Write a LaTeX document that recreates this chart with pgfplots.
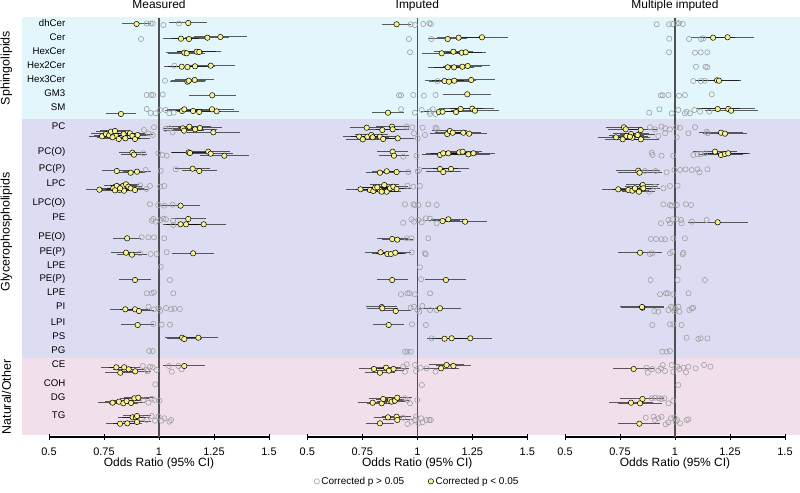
\documentclass[border=0pt]{standalone}
\usepackage{fontspec}
\setmainfont{Liberation Sans}
\usepackage{pgfplots}
\pgfplotsset{compat=1.18}
\definecolor{yel}{RGB}{248,242,140}
\definecolor{ngray}{RGB}{160,160,160}
\definecolor{bgA}{RGB}{226,246,252}
\definecolor{bgB}{RGB}{220,221,243}
\definecolor{bgC}{RGB}{242,223,236}
\definecolor{refline}{RGB}{80,80,80}
\pgfplotsset{
 panel/.style={
  scale only axis, width=220bp, height=422bp,
  xmin=0.5, xmax=1.5, ymin=-437, ymax=-15,
  y filter/.expression={-y},
  clip=false,
  hide y axis,
  axis x line*=bottom,
  axis line style={black, line width=1.2bp, -},
  xtick={0.5,0.75,1,1.25,1.5},
  xticklabels={0.5,0.75,1,1.25,1.5},
  tick align=center, major tick length=5bp,
  tick style={black, line width=1bp},
  xticklabel style={font=\fontsize{11}{13}\selectfont, anchor=center, inner sep=0pt, yshift=-12.5bp},
  xlabel={Odds Ratio (95\% CI)},
  xlabel style={font=\fontsize{12}{14}\selectfont, at={(axis description cs:0.5,0)}, anchor=center, inner sep=0pt, yshift=-26.5bp},
  anchor=south west,
 },
 nsig/.style={only marks, mark=o, mark size=2.6bp, mark options={draw=ngray, line width=0.6bp}},
 sig/.style={only marks, mark=*, mark size=2.7bp, mark options={fill=yel, draw=black, line width=0.5bp},
   error bars/x dir=both, error bars/x explicit, error bars/error mark=none,
   error bars/error bar style={black, opacity=0.62, line width=1bp}},
}
\begin{document}
\begin{tikzpicture}
\useasboundingbox (0,0) rectangle (800bp,493bp);
\fill[bgA] (22bp,374bp) rectangle (800bp,476bp);
\fill[bgB] (22bp,135bp) rectangle (800bp,374bp);
\fill[bgC] (22bp,58bp) rectangle (800bp,135bp);
% ---------------- Panel 1: Measured ----------------
\begin{axis}[panel, at={(49bp,56bp)}]
\draw[refline, line width=1.5bp] (axis cs:1,-18) -- (axis cs:1,-437);
\addplot[nsig] coordinates {
(0.944,23.5)(0.962,23.5)(0.971,23.5)(1.020,25)(1.091,23.5)
(0.918,39)(1.070,65.7)(1.027,80.7)
(0.944,95)(0.964,95)(0.974,95)(1.017,94.5)
(0.944,109)(0.962,113)(0.985,113.3)(1.005,110)(1.030,110)(1.047,113.3)(1.067,112.7)
(0.932,130)(0.977,127.3)(0.952,133.3)(0.971,135)(1.050,128.3)(1.030,129)(1.061,132.3)
(0.929,153.3)(0.997,153.3)(1.015,155)(1.035,155.7)
(0.939,170)(1.008,170.7)(1.076,169.3)
(0.914,185.3)(0.944,189)(0.959,186)(1.005,186.7)(1.024,186)
(0.959,204.3)(0.997,205)(1.024,205.7)(1.062,204.7)
(0.967,220.7)(0.974,219)(0.985,221.7)(1.006,220)(1.020,218.7)(1.032,219.3)(1.064,220.7)(1.065,225)
(0.921,237.3)(0.952,237.3)(0.977,237.3)(1.024,238.3)
(0.914,253.3)(0.962,254)(0.989,254)(1.035,252.3)
(1.008,266.7)(1.050,280)
(0.944,293.3)(0.967,293.3)(0.977,292.3)(1.065,293.3)
(0.952,306.7)(0.977,309.3)(0.997,308.3)(1.005,310.7)(1.032,308)(1.055,309.3)(1.070,308.7)(1.095,309)
(0.974,324)(1.012,324.7)(1.050,324.7)
(0.955,351)(0.971,351)
(0.926,366)(0.959,366.7)(0.947,371.3)(0.971,367.3)(0.989,370)(0.944,370)(1.045,366)(1.058,371.7)(1.088,366)(1.103,369.3)
(0.983,384.3)
(0.929,400)(0.952,402.7)(0.967,398.7)(0.979,400)(1.002,400.7)
(0.921,418.3)(0.944,420)(0.967,416)(0.982,420.7)(0.998,416.7)(1.012,420.7)(1.024,418.3)(1.047,421.7)(1.055,420)
};
\addplot[sig] coordinates {
(0.898,24) +- (0.065,0) (1.133,23) +- (0.087,0)
(1.100,38.7) +- (0.08,0) (1.136,39) +- (0.08,0) (1.220,37.7) +- (0.1,0) (1.279,37) +- (0.12,0)
(1.115,52.7) +- (0.085,0) (1.126,53.3) +- (0.085,0) (1.171,51.7) +- (0.09,0) (1.183,52) +- (0.1,0)
(1.103,66.7) +- (0.08,0) (1.129,67) +- (0.09,0) (1.164,66.3) +- (0.09,0) (1.235,65.7) +- (0.11,0)
(1.129,81.7) +- (0.08,0) (1.135,80.7) +- (0.08,0) (1.162,80) +- (0.09,0)
(1.242,95.3) +- (0.106,0)
(0.827,114) +- (0.07,0)
(1.105,111) +- (0.08,0) (1.115,109.3) +- (0.08,0) (1.155,111) +- (0.09,0) (1.183,112) +- (0.1,0) (1.241,109.3) +- (0.1,0) (1.262,111.3) +- (0.1,0)
(0.741,136.3) +- (0.06,0) (0.759,134) +- (0.07,0) (0.773,135.3) +- (0.07,0) (0.782,131.7) +- (0.07,0) (0.800,131) +- (0.07,0) (0.805,136) +- (0.07,0) (0.817,139) +- (0.07,0) (0.839,134) +- (0.07,0) (0.847,138.3) +- (0.07,0) (0.868,133.3) +- (0.07,0) (0.879,136) +- (0.07,0) (0.891,139) +- (0.07,0) (0.903,135) +- (0.07,0) (0.789,137.3) +- (0.07,0)
(1.108,128.3) +- (0.09,0) (1.114,130.7) +- (0.09,0) (1.138,126.7) +- (0.1,0) (1.164,129.3) +- (0.1,0) (1.186,128) +- (0.1,0) (1.247,132.3) +- (0.12,0)
(0.879,152.7) +- (0.06,0) (0.886,154.7) +- (0.06,0) (1.135,152.3) +- (0.08,0) (1.141,153) +- (0.08,0) (1.224,151.7) +- (0.1,0) (1.235,153.7) +- (0.1,0) (1.297,155.7) +- (0.11,0)
(0.808,171) +- (0.065,0) (0.871,172.7) +- (0.065,0) (0.900,171.7) +- (0.065,0) (1.153,168.7) +- (0.08,0) (1.183,171) +- (0.08,0)
(0.729,189.7) +- (0.06,0) (0.792,188.3) +- (0.06,0) (0.808,186) +- (0.06,0) (0.820,190) +- (0.06,0) (0.838,185.7) +- (0.06,0) (0.841,190.7) +- (0.06,0) (0.850,184.3) +- (0.06,0) (0.861,186.7) +- (0.06,0) (0.871,188.3) +- (0.06,0) (0.891,190) +- (0.06,0) (0.823,188.3) +- (0.06,0) (0.800,190.3) +- (0.06,0)
(1.098,205.7) +- (0.088,0)
(1.133,219) +- (0.08,0) (1.098,224.3) +- (0.08,0) (1.123,224.3) +- (0.09,0) (1.203,224.3) +- (0.1,0)
(0.855,238.3) +- (0.065,0)
(0.850,252.7) +- (0.07,0) (0.877,254.7) +- (0.07,0) (1.155,253.3) +- (0.095,0)
(0.891,280) +- (0.072,0)
(0.847,309.3) +- (0.07,0) (0.891,309.3) +- (0.07,0) (0.909,311) +- (0.07,0)
(0.903,325) +- (0.075,0)
(1.105,337.7) +- (0.08,0) (1.115,339) +- (0.08,0) (1.179,337.7) +- (0.09,0)
(0.806,367.3) +- (0.07,0) (0.824,372.7) +- (0.07,0) (0.842,367.3) +- (0.07,0) (0.862,369.3) +- (0.07,0) (0.892,371.3) +- (0.07,0) (1.115,366) +- (0.095,0)
(0.789,402.7) +- (0.065,0) (0.818,401.7) +- (0.065,0) (0.838,403.3) +- (0.065,0) (0.853,401) +- (0.065,0) (0.873,403) +- (0.065,0) (0.888,398.3) +- (0.065,0) (0.906,397.7) +- (0.065,0)
(0.823,423.7) +- (0.065,0) (0.856,423.3) +- (0.065,0) (0.880,417.3) +- (0.065,0) (0.895,417.3) +- (0.065,0) (0.900,422) +- (0.065,0) (0.900,416) +- (0.065,0)
};
\end{axis}
% ---------------- Panel 2: Imputed ----------------
\begin{axis}[panel, at={(307.3bp,56bp)},
  legend style={draw=none, fill=none, at={(0.5,-0.105)}, anchor=center,
    font=\fontsize{10}{12}\selectfont, /tikz/every even column/.append style={column sep=22bp}},
  legend columns=2,
  legend image code/.code={\draw[mark repeat=2,mark phase=2,#1] plot coordinates {(0bp,0bp) (3bp,0bp) (6bp,0bp)};}]
\draw[refline, line width=1.5bp] (axis cs:1,-18) -- (axis cs:1,-437);
\addplot[nsig] coordinates {
(0.970,24.3)(0.989,25)(1.027,24)(1.055,23.3)(1.061,24)
(0.962,39)(1.064,39)
(0.967,52.3)
(1.092,81)
(0.917,95.3)(0.926,95.3)(0.982,95)(1.030,95.7)(1.083,95)
(0.926,109.3)(0.989,112.7)(1.020,110)(1.055,111.7)(1.070,109.3)(1.083,114)(1.058,114)
(0.952,126.7)(0.977,127.3)(0.985,133.3)(1.002,138.3)(1.024,127.7)(1.035,135)(1.083,127.7)(1.088,129)
(0.936,156.7)(0.997,155.7)
(0.959,172)(1.002,171.3)(1.009,170)
(0.955,185.7)(0.982,186.7)(1.012,186)
(0.944,204.3)(0.982,204.3)(0.989,205)(1.005,205)(1.050,204.3)(1.088,205)
(0.936,222.7)(0.974,219.3)(0.985,221.7)(1.005,220)(1.020,222.3)(1.039,218.3)(1.058,218.7)(1.088,223.3)
(0.952,238.3)(0.974,238.3)(1.050,238.3)
(0.974,252.3)(1.035,253.3)(1.038,254.3)
(1.012,267.3)
(1.017,279.3)
(0.926,294.3)(0.955,293.3)(0.964,293.3)(0.989,294.3)(1.058,293.3)
(0.970,307.7)(0.985,306.7)(1.000,310)(1.009,311.7)(1.023,306)(1.058,310)(1.088,310)
(0.976,324.3)(1.039,325)
(1.065,338.3)
(0.944,351.7)(0.955,351.7)(0.970,351.7)
(0.936,366.7)(0.944,371.7)(0.952,364.3)(0.989,365)(0.994,371)(1.015,367.7)(1.042,368.3)(1.083,371.7)
(1.021,385)
(0.944,398.3)(0.955,400)(0.967,403.3)(1.000,400)
(0.936,417.7)(0.955,424)(0.974,421.7)(0.989,420)(0.994,416.7)(1.005,423.3)(1.017,418.3)(1.024,422.3)(1.042,420)(1.055,420)(1.062,420)
};
\addlegendentry{Corrected p > 0.05}
\addplot[sig] coordinates {
(0.906,24.3) +- (0.066,0)
(1.138,39) +- (0.09,0) (1.188,37.7) +- (0.1,0) (1.294,37.3) +- (0.12,0)
(1.111,53.3) +- (0.09,0) (1.164,51.7) +- (0.09,0) (1.202,52.7) +- (0.09,0) (1.220,52.3) +- (0.09,0)
(1.138,67.3) +- (0.09,0) (1.167,67.3) +- (0.09,0) (1.205,66.7) +- (0.09,0) (1.229,66) +- (0.1,0)
(1.124,81) +- (0.09,0) (1.144,81.7) +- (0.09,0) (1.168,80.7) +- (0.1,0) (1.245,80) +- (0.11,0)
(1.227,94.3) +- (0.11,0)
(0.867,112.7) +- (0.074,0)
(1.098,112) +- (0.08,0) (1.115,111.7) +- (0.08,0) (1.176,112) +- (0.09,0) (1.197,109) +- (0.1,0) (1.250,108.7) +- (0.1,0) (1.262,110.7) +- (0.11,0)
(0.770,127.7) +- (0.075,0) (0.841,130) +- (0.075,0) (0.885,126.7) +- (0.075,0) (0.888,129.3) +- (0.075,0) (0.736,136.7) +- (0.075,0) (0.752,139.3) +- (0.075,0) (0.773,136.7) +- (0.075,0) (0.791,135) +- (0.075,0) (0.797,137.3) +- (0.075,0) (0.830,136.7) +- (0.075,0) (0.845,139) +- (0.075,0) (0.911,138.3) +- (0.075,0)
(1.136,134) +- (0.08,0) (1.148,131) +- (0.08,0) (1.161,132.7) +- (0.08,0) (1.209,132.7) +- (0.08,0) (1.236,133.7) +- (0.08,0)
(0.888,151.7) +- (0.07,0) (0.894,155.7) +- (0.07,0) (1.103,155) +- (0.08,0) (1.118,153.3) +- (0.08,0) (1.141,153.3) +- (0.08,0) (1.191,152.3) +- (0.09,0) (1.206,151.7) +- (0.09,0) (1.232,154.3) +- (0.1,0) (1.255,153.3) +- (0.1,0)
(0.830,172.7) +- (0.065,0) (0.861,171.3) +- (0.065,0) (0.906,172) +- (0.065,0) (1.103,169) +- (0.08,0) (1.118,172) +- (0.08,0) (1.153,169) +- (0.08,0)
(0.742,189.3) +- (0.065,0) (0.785,190) +- (0.065,0) (0.800,191) +- (0.065,0) (0.808,187.7) +- (0.065,0) (0.830,190) +- (0.065,0) (0.850,185) +- (0.065,0) (0.861,191.7) +- (0.065,0) (0.876,188.3) +- (0.065,0) (0.891,186.7) +- (0.065,0) (0.906,189) +- (0.065,0) (0.838,191.7) +- (0.065,0) (0.818,187.3) +- (0.065,0)
(1.115,221) +- (0.08,0) (1.141,219.3) +- (0.08,0) (1.217,221.7) +- (0.1,0)
(0.886,239) +- (0.07,0) (0.909,239.7) +- (0.07,0)
(0.833,252.3) +- (0.07,0) (0.864,254) +- (0.07,0) (0.880,254) +- (0.07,0) (0.900,252.7) +- (0.07,0)
(0.886,280) +- (0.07,0) (1.130,280) +- (0.093,0)
(0.838,307) +- (0.07,0) (0.841,308.3) +- (0.07,0) (0.902,311) +- (0.07,0) (1.103,308.3) +- (0.095,0)
(0.870,325) +- (0.07,0)
(1.124,338.7) +- (0.08,0) (1.156,338.3) +- (0.09,0) (1.241,338.3) +- (0.1,0)
(0.803,369) +- (0.07,0) (0.830,372.7) +- (0.07,0) (0.858,367.7) +- (0.07,0) (0.871,370.7) +- (0.07,0) (0.892,369) +- (0.07,0) (1.108,368.3) +- (0.08,0) (1.133,365) +- (0.08,0) (1.164,366) +- (0.08,0)
(0.797,402.7) +- (0.065,0) (0.838,403.3) +- (0.065,0) (0.845,399) +- (0.065,0) (0.876,400) +- (0.065,0) (0.883,401.7) +- (0.065,0) (0.898,400.7) +- (0.065,0) (0.909,397.7) +- (0.065,0)
(0.830,423.3) +- (0.065,0) (0.867,417.3) +- (0.065,0) (0.906,416.7) +- (0.065,0) (0.909,420) +- (0.065,0)
};
\addlegendentry{Corrected p < 0.05}
\end{axis}
% ---------------- Panel 3: Multiple imputed ----------------
\begin{axis}[panel, at={(565bp,56bp)}]
\draw[refline, line width=1.5bp] (axis cs:1,-18) -- (axis cs:1,-437);
\addplot[nsig] coordinates {
(0.917,24.3)(0.973,24.3)(0.988,24)(1.008,23.3)(1.018,23.3)(1.035,24)
(0.974,38.7)(1.064,39)(1.118,39)(1.129,38.3)
(0.973,52.3)(1.091,52.7)(1.117,52.3)(1.147,52.3)
(1.095,66.7)(1.139,66.7)(1.147,67.3)
(1.083,81)(1.117,81)(1.136,80.7)
(0.935,95.3)(0.944,95.3)(0.970,95)(1.018,95.7)(1.045,95)(1.167,94.3)
(0.883,112.7)(0.929,109.3)(0.985,113.3)(1.015,110)(1.045,113.3)(1.053,111.7)(1.068,113.3)(1.088,110)(1.114,111.7)(1.156,111.7)
(0.886,127.3)(0.909,129.3)(0.939,126.7)(0.955,128.3)(0.955,133.3)(0.977,129.3)(1.005,127.3)(1.023,127.7)(1.008,137.3)(1.061,133.3)(1.091,127.3)(1.144,131.7)(1.148,133.3)(0.924,136)
(0.894,152.7)(0.898,155)(0.939,155.7)(0.992,155.7)(1.083,155)(1.103,154.3)(1.118,154)(1.136,153.3)
(0.864,171)(0.912,171)(0.962,172.3)(0.997,170)(1.023,170)(1.048,169.3)(1.076,170)(1.102,169.3)(1.111,172.3)(1.147,169.3)
(0.883,191.7)(0.909,186.7)(0.947,188.3)(0.977,186)(1.012,185.7)
(0.947,204.3)(0.977,205)(0.985,205.7)(1.008,205)(1.050,204.3)(1.073,205)
(0.936,223.3)(0.970,220)(0.977,223.3)(0.988,219.3)(1.008,219.3)(1.027,220)(1.030,223.3)(1.076,221.7)(1.144,220)
(0.891,239)(0.914,239)(0.939,239.3)(0.955,239.3)(0.992,238.3)(1.045,238.3)
(0.886,254)(0.897,253.3)(0.977,253.3)(0.988,251.7)(1.035,254.3)(1.038,252.7)
(1.015,267.3)
(0.889,280)(1.012,280)(1.136,280)
(0.932,294.3)(0.959,293.3)(0.967,293.3)(0.992,294.3)(1.061,293.3)
(0.906,311)(0.924,311.7)(0.970,310)(0.982,306.7)(0.988,308.3)(0.997,311)(1.003,309)(1.015,306.7)(1.020,311.7)(1.065,310)(1.076,308.3)(1.083,307.7)
(0.897,325)(0.977,324.3)(0.992,324.3)(1.030,325)
(1.053,337.7)(1.106,339)(1.117,338.3)(1.148,338.3)
(0.942,351.7)(0.962,351.7)(0.977,351)
(0.871,367.7)(0.876,372.7)(0.897,369)(0.924,370.7)(0.936,368.3)(0.944,365)(0.955,371)(0.985,365)(0.992,371.7)(1.011,366.7)(1.020,369)(1.038,367.7)(1.050,372.3)(1.061,366.7)(1.094,368.3)(1.132,365)(1.161,366.7)
(1.015,385)
(0.894,398.3)(0.909,397.7)(0.927,398.3)(0.939,399)(0.952,398.3)(0.970,403.3)(0.992,400.7)
(0.867,417.7)(0.902,416.7)(0.909,420)(0.924,418.3)(0.939,416.7)(0.958,424.3)(0.970,422.3)(0.982,418.3)(0.997,417.7)(1.003,421.7)(1.009,420)(1.023,423.3)(1.053,420)(1.061,419.3)
};
\addplot[sig] coordinates {
(1.173,37.7) +- (0.1,0) (1.239,37.3) +- (0.12,0)
(1.191,80.3) +- (0.1,0) (1.200,80.7) +- (0.1,0)
(1.194,109) +- (0.1,0) (1.242,109) +- (0.12,0) (1.255,110.7) +- (0.12,0)
(0.768,127.3) +- (0.08,0) (0.776,129.3) +- (0.08,0) (0.844,130) +- (0.08,0) (0.732,137.3) +- (0.08,0) (0.762,139.3) +- (0.08,0) (0.779,136) +- (0.08,0) (0.800,134) +- (0.08,0) (0.806,137.7) +- (0.08,0) (0.830,135) +- (0.08,0) (0.845,139.3) +- (0.08,0) (0.795,136.7) +- (0.08,0)
(1.209,132.7) +- (0.1,0) (1.227,133.7) +- (0.1,0)
(1.182,151.7) +- (0.1,0) (1.209,155) +- (0.1,0) (1.227,154) +- (0.1,0) (1.242,153.3) +- (0.1,0)
(0.833,170.7) +- (0.1,0) (0.839,172.7) +- (0.1,0)
(0.742,189.3) +- (0.075,0) (0.788,190) +- (0.075,0) (0.806,190.7) +- (0.075,0) (0.818,188.3) +- (0.075,0) (0.836,191.7) +- (0.075,0) (0.848,186.7) +- (0.075,0) (0.853,185) +- (0.075,0) (0.856,188.3) +- (0.075,0)
(1.194,222.3) +- (0.137,0)
(0.841,252.7) +- (0.098,0)
(0.852,307.7) +- (0.098,0) (0.850,307) +- (0.098,0)
(0.812,369) +- (0.092,0)
(0.852,399) +- (0.1,0) (0.800,402.7) +- (0.1,0) (0.841,403.3) +- (0.1,0)
(0.838,423.7) +- (0.096,0)
};
\end{axis}
% ---------------- titles and labels ----------------
\node[font=\fontsize{12}{14}\selectfont, anchor=base] at (159bp,484bp) {Measured};
\node[font=\fontsize{12}{14}\selectfont, anchor=base] at (417.3bp,484bp) {Imputed};
\node[font=\fontsize{12}{14}\selectfont, anchor=base] at (675bp,484bp) {Multiple imputed};
\foreach \lab/\yy in {dhCer/469.5, Cer/455.5, HexCer/441.5, Hex2Cer/427.5, Hex3Cer/413.5, GM3/399, SM/385,
  PC/366.5, PC(O)/341, PC(P)/324, LPC/309, LPC(O)/290, PE/275, PE(O)/256, PE(P)/241, LPE/227,
  PE(P)/214, LPE/200, PI/186, LPI/170, PS/156, PG/142, CE/128, COH/109, DG/95, TG/77}
  \node[font=\fontsize{9.7}{11}\selectfont, anchor=mid east, inner sep=0pt] at (65.5bp,\yy bp) {\lab};
\node[rotate=90, font=\fontsize{12.5}{14}\selectfont] at (6.5bp,425bp) {Sphingolipids};
\node[rotate=90, font=\fontsize{12.5}{14}\selectfont] at (6.5bp,261bp) {Glycerophospholipids};
\node[rotate=90, font=\fontsize{12.5}{14}\selectfont] at (6.5bp,96bp) {Natural/Other};
\end{tikzpicture}
\end{document}
